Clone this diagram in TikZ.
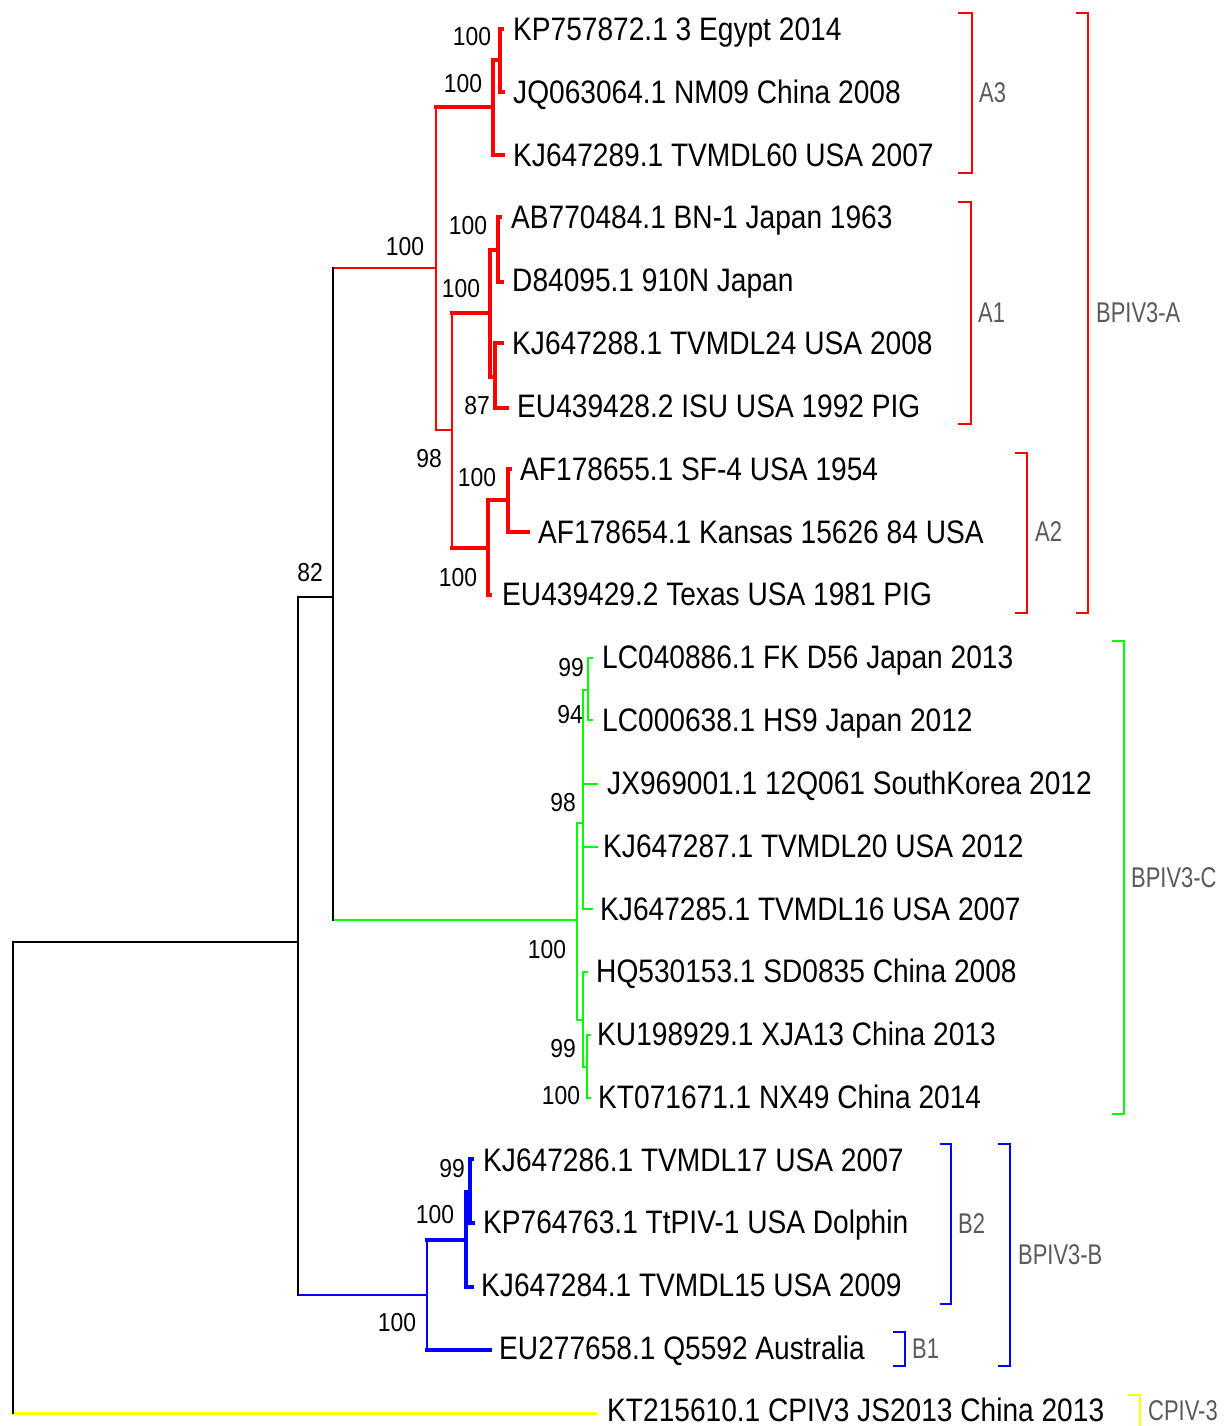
\documentclass[tikz,border=0pt]{standalone}
\usepackage{fontspec}
\newfontfamily\tipfont{Liberation Sans}[FakeStretch=0.865]
\newfontfamily\supfont{Liberation Sans}[FakeStretch=0.88]
\newfontfamily\grpfont{Liberation Sans}[FakeStretch=0.77]
\definecolor{tred}{RGB}{255,0,0}
\definecolor{tgreen}{RGB}{0,255,0}
\definecolor{tblue}{RGB}{0,0,255}
\definecolor{tyellow}{RGB}{255,255,0}
\newcommand\hedge[3]{\draw[#3] (#1 |- #2) -- (#2);}
\newcommand\vbar[4]{\draw[#4] (#1 |- #2) -- (#1 |- #3);}
\begin{document}
\begin{tikzpicture}[x=1pt,y=-1pt,
  tiplab/.style={anchor=west, inner sep=0pt, text height=23pt, text depth=0pt, font=\tipfont\fontsize{32.5}{36}\selectfont},
  suplab/.style={inner sep=0pt, text height=18.6pt, text depth=0pt, font=\supfont\fontsize{26}{28}\selectfont},
  grplab/.style={anchor=west, inner sep=0pt, text height=20.5pt, text depth=0pt, text=black!65, font=\grpfont\fontsize{28.5}{30}\selectfont},
  kline/.style={line width=2pt, black, line cap=rect},
  yline/.style={line width=3pt, tyellow},
  rthin/.style={line width=2pt, tred, line cap=rect},
  rthick/.style={line width=4.5pt, tred, line cap=rect},
  gline/.style={line width=2.4pt, tgreen, line cap=rect},
  bthin/.style={line width=2pt, tblue, line cap=rect},
  bthick/.style={line width=4.5pt, tblue, line cap=rect},
  brk/.style={line width=2.6pt},
]
\useasboundingbox (0,0) rectangle (1231,1426);

% ---- internal nodes ----
\coordinate (R) at (13,942);
\coordinate (N82) at (298,942);
\coordinate (NAC) at (333,597);
\coordinate (NA) at (436,268);
\coordinate (NA3) at (493,107);
\coordinate (NA3a) at (500,60);
\coordinate (NA12) at (452,430);
\coordinate (NA1) at (490,313);
\coordinate (NA1a) at (498,250);
\coordinate (NA1b) at (495,377);
\coordinate (NA2) at (488,548);
\coordinate (NA2a) at (508,500);
\coordinate (NC) at (577,920);
\coordinate (NC1) at (583,823);
\coordinate (NC1a) at (588,690);
\coordinate (NC2) at (583,1020);
\coordinate (NC2a) at (587,1067);
\coordinate (NB) at (427,1295);
\coordinate (NB2) at (466,1240);
\coordinate (NB2a) at (470,1192);

% ---- tips ----
\coordinate (t1) at (502,29);
\coordinate (t2) at (503,92);
\coordinate (t3) at (503,155);
\coordinate (t4) at (500,217);
\coordinate (t5) at (502,282);
\coordinate (t6) at (502,343);
\coordinate (t7) at (507,408);
\coordinate (t8) at (510,469);
\coordinate (t9) at (528,532);
\coordinate (t10) at (490,595);
\coordinate (t11) at (592,658);
\coordinate (t12) at (592,720);
\coordinate (t13) at (597,784);
\coordinate (t14) at (597,847);
\coordinate (t15) at (592,909);
\coordinate (t16) at (587,972);
\coordinate (t17) at (590,1035);
\coordinate (t18) at (590,1098);
\coordinate (t19) at (472,1159);
\coordinate (t20) at (473,1223);
\coordinate (t21) at (472,1287);
\coordinate (t22) at (490,1350);
\coordinate (t23) at (597,1413);

% ---- red clade ----
\vbar{NA}{NA3}{NA12}{rthin}
\hedge{NA}{NA3}{rthick}
\hedge{NA}{NA12}{rthin}
\vbar{NA3}{NA3a}{t3}{rthick}
\hedge{NA3}{NA3a}{rthick}
\hedge{NA3}{t3}{rthick}
\vbar{NA3a}{t1}{t2}{rthick}
\hedge{NA3a}{t1}{rthick}
\hedge{NA3a}{t2}{rthick}
\vbar{NA12}{NA1}{NA2}{rthin}
\hedge{NA12}{NA1}{rthick}
\hedge{NA12}{NA2}{rthick}
\vbar{NA1}{NA1a}{NA1b}{rthick}
\hedge{NA1}{NA1a}{rthick}
\hedge{NA1}{NA1b}{rthick}
\vbar{NA1a}{t4}{t5}{rthick}
\hedge{NA1a}{t4}{rthick}
\hedge{NA1a}{t5}{rthick}
\vbar{NA1b}{t6}{t7}{rthick}
\hedge{NA1b}{t6}{rthick}
\hedge{NA1b}{t7}{rthick}
\vbar{NA2}{NA2a}{t10}{rthick}
\hedge{NA2}{NA2a}{rthick}
\hedge{NA2}{t10}{rthick}
\vbar{NA2a}{t8}{t9}{rthick}
\hedge{NA2a}{t8}{rthick}
\hedge{NA2a}{t9}{rthick}

% ---- green clade ----
\vbar{NC}{NC1}{NC2}{gline}
\hedge{NC}{NC1}{gline}
\hedge{NC}{NC2}{gline}
\vbar{NC1}{NC1a}{t15}{gline}
\hedge{NC1}{NC1a}{gline}
\hedge{NC1}{t13}{gline}
\hedge{NC1}{t14}{gline}
\hedge{NC1}{t15}{gline}
\vbar{NC1a}{t11}{t12}{gline}
\hedge{NC1a}{t11}{gline}
\hedge{NC1a}{t12}{gline}
\vbar{NC2}{t16}{NC2a}{gline}
\hedge{NC2}{t16}{gline}
\hedge{NC2}{NC2a}{gline}
\vbar{NC2a}{t17}{t18}{gline}
\hedge{NC2a}{t17}{gline}
\hedge{NC2a}{t18}{gline}

% ---- blue clade ----
\vbar{NB}{NB2}{t22}{bthin}
\hedge{NB}{NB2}{bthick}
\hedge{NB}{t22}{bthick}
\vbar{NB2}{NB2a}{t21}{bthick}
\hedge{NB2}{NB2a}{bthick}
\hedge{NB2}{t21}{bthick}
\vbar{NB2a}{t19}{t20}{bthick}
\hedge{NB2a}{t19}{bthick}
\hedge{NB2a}{t20}{bthick}

% ---- backbone ----
\hedge{NAC}{NA}{rthin}
\hedge{NAC}{NC}{gline}
\hedge{N82}{NB}{bthin}
\hedge{R}{t23}{yline}
\vbar{NAC}{NA}{NC}{kline}
\hedge{N82}{NAC}{kline}
\vbar{N82}{NAC}{NB}{kline}
\hedge{R}{N82}{kline}
\vbar{R}{N82}{t23}{kline}

% ---- tip labels ----
\node[tiplab] (L1) at (513,29) {KP757872.1 3 Egypt 2014};
\node[tiplab] (L2) at (513,92) {JQ063064.1 NM09 China 2008};
\node[tiplab] (L3) at (513,155) {KJ647289.1 TVMDL60 USA 2007};
\node[tiplab] (L4) at (511,217) {AB770484.1 BN-1 Japan 1963};
\node[tiplab] (L5) at (512,280) {D84095.1 910N Japan};
\node[tiplab] (L6) at (512,343) {KJ647288.1 TVMDL24 USA 2008};
\node[tiplab] (L7) at (517,406) {EU439428.2 ISU USA 1992 PIG};
\node[tiplab] (L8) at (520,469) {AF178655.1 SF-4 USA 1954};
\node[tiplab] (L9) at (538,532) {AF178654.1 Kansas 15626 84 USA};
\node[tiplab] (L10) at (502,594) {EU439429.2 Texas USA 1981 PIG};
\node[tiplab] (L11) at (602,657) {LC040886.1 FK D56 Japan 2013};
\node[tiplab] (L12) at (602,720) {LC000638.1 HS9 Japan 2012};
\node[tiplab] (L13) at (607,783) {JX969001.1 12Q061 SouthKorea 2012};
\node[tiplab] (L14) at (603,846) {KJ647287.1 TVMDL20 USA 2012};
\node[tiplab] (L15) at (600,909) {KJ647285.1 TVMDL16 USA 2007};
\node[tiplab] (L16) at (596,971) {HQ530153.1 SD0835 China 2008};
\node[tiplab] (L17) at (597,1034) {KU198929.1 XJA13 China 2013};
\node[tiplab] (L18) at (598,1097) {KT071671.1 NX49 China 2014};
\node[tiplab] (L19) at (483,1160) {KJ647286.1 TVMDL17 USA 2007};
\node[tiplab] (L20) at (483,1222) {KP764763.1 TtPIV-1 USA Dolphin};
\node[tiplab] (L21) at (481,1285) {KJ647284.1 TVMDL15 USA 2009};
\node[tiplab] (L22) at (499,1348) {EU277658.1 Q5592 Australia};
\node[tiplab] (L23) at (607,1410) {KT215610.1 CPIV3 JS2013 China 2013};

% ---- support values ----
\node[suplab] (S1) at (472,36) {100};
\node[suplab] (S2) at (463,83) {100};
\node[suplab] (S3) at (405,246) {100};
\node[suplab] (S4) at (468,225) {100};
\node[suplab] (S5) at (461,288) {100};
\node[suplab] (S6) at (477,405) {87};
\node[suplab] (S7) at (429,458) {98};
\node[suplab] (S8) at (477,477) {100};
\node[suplab] (S9) at (458,577) {100};
\node[suplab] (S10) at (310,572) {82};
\node[suplab] (S11) at (571,667) {99};
\node[suplab] (S12) at (570,714) {94};
\node[suplab] (S13) at (563,802) {98};
\node[suplab] (S14) at (547,949) {100};
\node[suplab] (S15) at (563,1048) {99};
\node[suplab] (S16) at (561,1095) {100};
\node[suplab] (S17) at (452,1168) {99};
\node[suplab] (S18) at (435,1214) {100};
\node[suplab] (S19) at (397,1322) {100};

% ---- group brackets ----
\draw[brk, tred] (958,13) -- (972,13) -- (972,173) -- (958,173);
\node[grplab] (GA3) at (979,92) {A3};
\draw[brk, tred] (958,202) -- (971,202) -- (971,424) -- (958,424);
\node[grplab] (GA1) at (978,312) {A1};
\draw[brk, tred] (1015,453) -- (1027,453) -- (1027,613) -- (1015,613);
\node[grplab] (GA2) at (1035,531) {A2};
\draw[brk, tred] (1076,13) -- (1088,13) -- (1088,613) -- (1076,613);
\node[grplab] (GBA) at (1096,312) {BPIV3-A};
\draw[brk, tgreen] (1112,641) -- (1124,641) -- (1124,1114) -- (1112,1114);
\node[grplab] (GBC) at (1131,877) {BPIV3-C};
\draw[brk, tblue] (940,1144) -- (951,1144) -- (951,1304) -- (940,1304);
\node[grplab] (GB2) at (958,1223) {B2};
\draw[brk, tblue] (998,1144) -- (1010,1144) -- (1010,1366) -- (998,1366);
\node[grplab] (GBB) at (1018,1254) {BPIV3-B};
\draw[brk, tblue] (893,1332) -- (905,1332) -- (905,1366) -- (893,1366);
\node[grplab] (GB1) at (912,1348) {B1};
\draw[brk, tyellow] (1128,1395) -- (1140,1395) -- (1140,1430);
\node[grplab] (GCP) at (1148,1410) {CPIV-3};
\end{tikzpicture}
\end{document}
